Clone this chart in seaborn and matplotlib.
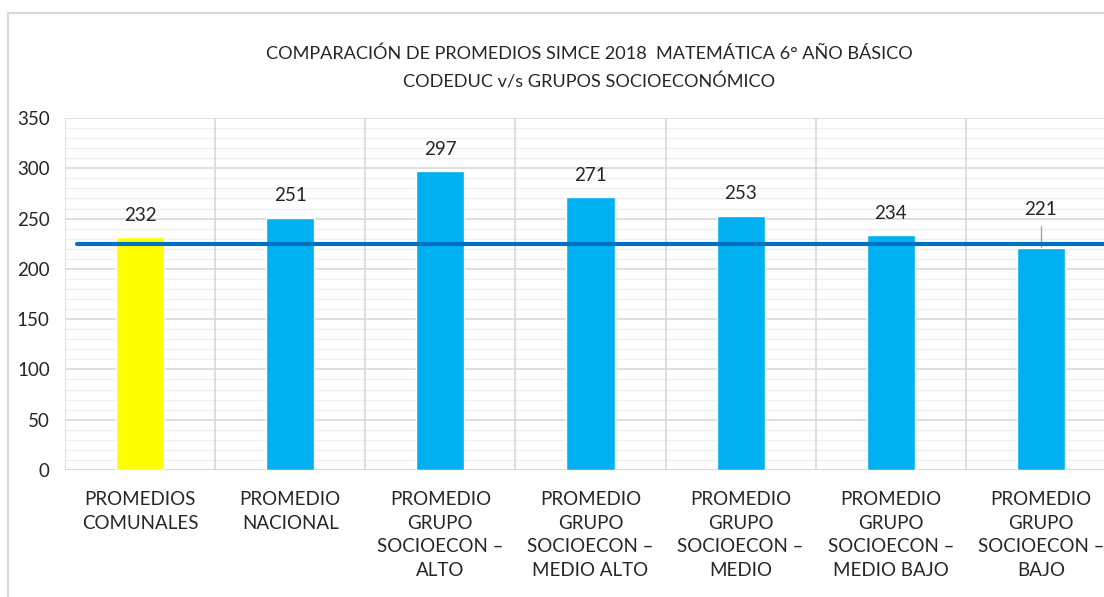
import matplotlib
matplotlib.use("Agg")
import matplotlib.pyplot as plt
import numpy as np
import pandas as pd
import seaborn as sns
from matplotlib.patches import Rectangle

categories = ["PROMEDIOS\nCOMUNALES", "PROMEDIO\nNACIONAL",
              "PROMEDIO\nGRUPO\nSOCIOECON –\nALTO",
              "PROMEDIO\nGRUPO\nSOCIOECON –\nMEDIO ALTO",
              "PROMEDIO\nGRUPO\nSOCIOECON –\nMEDIO",
              "PROMEDIO\nGRUPO\nSOCIOECON –\nMEDIO BAJO",
              "PROMEDIO\nGRUPO\nSOCIOECON –\nBAJO"]
scores = [232, 251, 297, 271, 253, 234, 221]
bar_colors = ["#FFFF00", "#00B0F0", "#00B0F0", "#00B0F0", "#00B0F0", "#00B0F0", "#00B0F0"]
reference_value = 225

sns.set_theme(style="white")
plt.rcParams["font.family"] = ["Lato", "DejaVu Sans"]

df = pd.DataFrame({"cat": categories, "score": scores})

fig = plt.figure(figsize=(11.04, 5.97), dpi=100)
fig.patches.append(Rectangle((8 / 1104, -0.1), 1.2, 1 - 13 / 597 + 0.1,
                             transform=fig.transFigure, fill=False,
                             edgecolor="#D9D9D9", linewidth=1.5))
ax = fig.add_axes([65 / 1104, 1 - 470 / 597, 1051 / 1104, 352 / 597])

sns.barplot(data=df, x="cat", y="score", hue="cat", palette=bar_colors,
            saturation=1, legend=False, width=0.32, ax=ax, zorder=3)

ax.set_ylim(0, 350)
ax.set_xlim(-0.5, len(categories) - 0.5)
ax.set_yticks(np.arange(0, 351, 50))
ax.set_yticks(np.arange(0, 351, 10), minor=True)
ax.yaxis.grid(True, which="major", color="#D9D9D9", linewidth=1.2, zorder=0)
ax.yaxis.grid(True, which="minor", color="#F0F0F0", linewidth=1.0, zorder=0)
for b in np.arange(-0.5, len(categories), 1):
    ax.axvline(b, color="#D9D9D9", linewidth=1.2, zorder=1)
for s in ax.spines.values():
    s.set_visible(False)
ax.axhline(0, color="#D9D9D9", linewidth=1.5, zorder=2)

ax.tick_params(axis="y", which="both", length=0, labelsize=13.5, pad=11)
ax.tick_params(axis="x", length=0, labelsize=13.5, pad=15)
for lbl in ax.get_xticklabels():
    lbl.set_linespacing(1.48)
ax.set_xlabel("")
ax.set_ylabel("")

for i, v in enumerate(scores):
    if i == len(scores) - 1:
        ax.text(i, v + 30, str(v), ha="center", va="bottom", fontsize=13.5, zorder=5)
        ax.plot([i, i], [v + 1, v + 22], color="#A6A6A6", linewidth=1, zorder=2)
    else:
        ax.text(i, v + 13, str(v), ha="center", va="bottom", fontsize=13.5, zorder=5)

ax.plot([-0.42, 7], [reference_value, reference_value], color="#0070C0",
        linewidth=3, zorder=4, clip_on=False)

fig.text(589 / 1104, 1 - 54 / 597, "COMPARACIÓN DE PROMEDIOS SIMCE 2018  MATEMÁTICA 6° AÑO BÁSICO",
         ha="center", va="center", fontsize=13.1)
fig.text(589 / 1104, 1 - 82 / 597, "CODEDUC v/s GRUPOS SOCIOECONÓMICO",
         ha="center", va="center", fontsize=13.1)

fig.savefig("out.png", dpi=100)
